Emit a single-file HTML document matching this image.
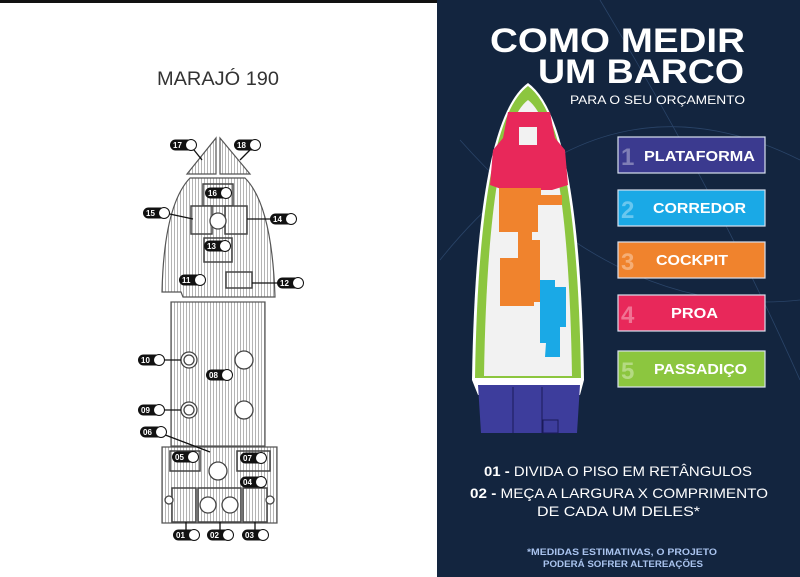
<!DOCTYPE html>
<html><head><meta charset="utf-8"><style>
html,body{margin:0;padding:0;background:#fff}
svg{display:block}
text{font-family:"Liberation Sans",sans-serif}
</style></head><body>
<svg width="800" height="577" viewBox="0 0 800 577" xmlns="http://www.w3.org/2000/svg">
<defs>
<pattern id="st" width="3" height="6" patternUnits="userSpaceOnUse">
<rect width="3" height="6" fill="#fff"/><rect width="1" height="6" fill="#b4b4b4"/>
</pattern>
<g id="lbl"><rect x="-13" y="-5.5" width="26" height="11" rx="5.5" fill="#111"/><circle cx="8" cy="0" r="5.5" fill="#fff" stroke="#111" stroke-width="1"/></g>
</defs>
<rect width="437" height="577" fill="#fff"/>
<rect width="437" height="3" fill="#111"/>
<text x="157" y="85" font-size="19" fill="#333" textLength="122" lengthAdjust="spacingAndGlyphs">MARAJÓ 190</text>
<g stroke="#555" stroke-width="1.2">
<path d="M187,174 L216,174 L216,138 Z" fill="url(#st)"/>
<path d="M220,138 L220,174 L250,174 Z" fill="url(#st)"/>
<path d="M190,178 L245,178 Q272,205 275,297 L183,297 L181,292 L162,292 Q164,205 190,178 Z" fill="url(#st)"/>
<rect x="171" y="302" width="94" height="144" fill="url(#st)"/>
<path d="M162,447 L277,447 L277,523 L162,523 Z" fill="url(#st)"/>
</g>
<g stroke="#444" stroke-width="1.5" fill="url(#st)">
<rect x="203" y="184" width="30" height="22"/>
<rect x="191" y="206" width="21" height="28"/>
<rect x="225" y="206" width="22" height="28"/>
<rect x="204" y="238" width="28" height="24"/>
<rect x="226" y="272" width="26" height="16"/>
<rect x="170" y="451" width="30" height="20"/>
<rect x="237" y="451" width="33" height="20"/>
<rect x="172" y="488" width="24" height="34"/>
<rect x="198" y="488" width="43" height="34"/>
<rect x="243" y="488" width="24" height="34"/>
</g>
<g fill="#fff" stroke="#444" stroke-width="1.3">
<circle cx="218" cy="221" r="8"/>
<circle cx="189" cy="360" r="8"/><circle cx="189" cy="360" r="5"/>
<circle cx="244" cy="360" r="9"/>
<circle cx="189" cy="410" r="8"/><circle cx="189" cy="410" r="5"/>
<circle cx="244" cy="410" r="9"/>
<circle cx="218" cy="471" r="9"/>
<circle cx="208" cy="505" r="8"/><circle cx="230" cy="505" r="8"/>
<circle cx="169" cy="500" r="4"/><circle cx="270" cy="500" r="4"/>
</g>
<g stroke="#111" stroke-width="1.3">
<line x1="190" y1="145" x2="202" y2="160"/><line x1="255" y1="145" x2="240" y2="160"/>
<line x1="165" y1="213" x2="193" y2="219"/><line x1="247" y1="219" x2="272" y2="219"/>
<line x1="252" y1="283" x2="280" y2="283"/>
<line x1="160" y1="360" x2="181" y2="360"/><line x1="160" y1="410" x2="181" y2="410"/>
<line x1="160" y1="433" x2="210" y2="452"/>
<line x1="186" y1="522" x2="186" y2="535"/><line x1="220" y1="522" x2="220" y2="535"/><line x1="255" y1="522" x2="255" y2="535"/>
</g>
<g font-size="8" font-weight="bold" fill="#fff">
<g transform="translate(183,145)"><use href="#lbl"/><text x="-10" y="3">17</text></g>
<g transform="translate(247,145)"><use href="#lbl"/><text x="-10" y="3">18</text></g>
<g transform="translate(218,193)"><use href="#lbl"/><text x="-10" y="3">16</text></g>
<g transform="translate(156,213)"><use href="#lbl"/><text x="-10" y="3">15</text></g>
<g transform="translate(283,219)"><use href="#lbl"/><text x="-10" y="3">14</text></g>
<g transform="translate(217,246)"><use href="#lbl"/><text x="-10" y="3">13</text></g>
<g transform="translate(192,280)"><use href="#lbl"/><text x="-10" y="3">11</text></g>
<g transform="translate(290,283)"><use href="#lbl"/><text x="-10" y="3">12</text></g>
<g transform="translate(151,360)"><use href="#lbl"/><text x="-10" y="3">10</text></g>
<g transform="translate(219,375)"><use href="#lbl"/><text x="-10" y="3">08</text></g>
<g transform="translate(151,410)"><use href="#lbl"/><text x="-10" y="3">09</text></g>
<g transform="translate(153,432)"><use href="#lbl"/><text x="-10" y="3">06</text></g>
<g transform="translate(185,457)"><use href="#lbl"/><text x="-10" y="3">05</text></g>
<g transform="translate(253,458)"><use href="#lbl"/><text x="-10" y="3">07</text></g>
<g transform="translate(253,482)"><use href="#lbl"/><text x="-10" y="3">04</text></g>
<g transform="translate(186,535)"><use href="#lbl"/><text x="-10" y="3">01</text></g>
<g transform="translate(220,535)"><use href="#lbl"/><text x="-10" y="3">02</text></g>
<g transform="translate(255,535)"><use href="#lbl"/><text x="-10" y="3">03</text></g>
</g>

<rect x="437" y="0" width="363" height="577" fill="#13253f"/>
<g fill="none" stroke="#2a4468" stroke-width="0.8">
<path d="M440,260 Q600,60 800,160"/><path d="M600,0 Q720,200 800,380"/><path d="M460,140 Q620,320 800,300"/>
</g>
<text x="490" y="52" font-size="34" font-weight="bold" fill="#fff" textLength="255" lengthAdjust="spacingAndGlyphs">COMO MEDIR</text>
<text x="538" y="83" font-size="34" font-weight="bold" fill="#fff" textLength="206" lengthAdjust="spacingAndGlyphs">UM BARCO</text>
<text x="570" y="104" font-size="12" fill="#fff" textLength="175" lengthAdjust="spacingAndGlyphs">PARA O SEU ORÇAMENTO</text>

<path d="M528,83 Q580,120 584,380 L580,395 L478,395 L472,380 Q476,120 528,83 Z" fill="#fff"/>
<path d="M528,86 Q577,122 581,378 L475,378 Q479,122 528,86 Z" fill="#8cc63f"/>
<path d="M528,100 Q568,130 572,376 L484,376 Q488,130 528,100 Z" fill="#f2f2f2"/>
<path d="M508,112 L550,112 L555,138 L565,150 L568,185 L552,190 L504,190 L490,185 L493,150 L503,138 Z" fill="#e8285a"/>
<rect x="519" y="127" width="18" height="18" fill="#f2f2f2"/>
<path d="M499,188 L541,188 L541,195 L562,195 L562,205 L538,205 L538,232 L532,232 L532,240 L540,240 L540,302 L534,302 L534,306 L500,306 L500,258 L518,258 L518,232 L499,232 Z" fill="#f0832d"/>
<path d="M540,280 L555,280 L555,287 L566,287 L566,327 L560,327 L560,357 L545,357 L546,343 L540,343 Z" fill="#1aa9e6"/>
<path d="M478,385 L580,385 L577,433 L481,433 Z" fill="#3d3d9c"/>
<g stroke="#1b1b5a" stroke-width="1" fill="none"><line x1="513" y1="387" x2="513" y2="433"/><line x1="542" y1="387" x2="542" y2="433"/><rect x="543" y="420" width="15" height="13"/></g>

<g stroke="#d8e0ee" stroke-width="1.2">
<rect x="618" y="137" width="147" height="36" fill="#3b3a8f"/>
<rect x="618" y="190" width="147" height="36" fill="#1aa9e6"/>
<rect x="618" y="242" width="147" height="36" fill="#f0832d"/>
<rect x="618" y="295" width="147" height="36" fill="#e8285a"/>
<rect x="618" y="351" width="147" height="36" fill="#8cc63f"/>
</g>
<g font-size="24" font-weight="bold" fill="#fff" fill-opacity="0.35">
<text x="621" y="165">1</text><text x="621" y="218">2</text><text x="621" y="270">3</text><text x="621" y="323">4</text><text x="621" y="379">5</text>
</g>
<g font-size="15" font-weight="bold" fill="#fff">
<text x="644" y="161" textLength="111" lengthAdjust="spacingAndGlyphs">PLATAFORMA</text>
<text x="653" y="213" textLength="93" lengthAdjust="spacingAndGlyphs">CORREDOR</text>
<text x="656" y="265" textLength="72" lengthAdjust="spacingAndGlyphs">COCKPIT</text>
<text x="671" y="318" textLength="47" lengthAdjust="spacingAndGlyphs">PROA</text>
<text x="654" y="374" textLength="93" lengthAdjust="spacingAndGlyphs">PASSADIÇO</text>
</g>
<g font-size="14" fill="#fff">
<text x="484" y="476" textLength="268" lengthAdjust="spacingAndGlyphs"><tspan font-weight="bold">01 -</tspan> DIVIDA O PISO EM RETÂNGULOS</text>
<text x="470" y="498" textLength="298" lengthAdjust="spacingAndGlyphs"><tspan font-weight="bold">02 -</tspan> MEÇA A LARGURA X COMPRIMENTO</text>
<text x="537" y="516" textLength="163" lengthAdjust="spacingAndGlyphs">DE CADA UM DELES*</text>
</g>
<g font-size="9.5" font-weight="bold" fill="#a9c3ee">
<text x="527" y="555" textLength="190" lengthAdjust="spacingAndGlyphs">*MEDIDAS ESTIMATIVAS, O PROJETO</text>
<text x="543" y="567" textLength="160" lengthAdjust="spacingAndGlyphs">PODERÁ SOFRER ALTEREAÇÕES</text>
</g>
</svg>
</body></html>
